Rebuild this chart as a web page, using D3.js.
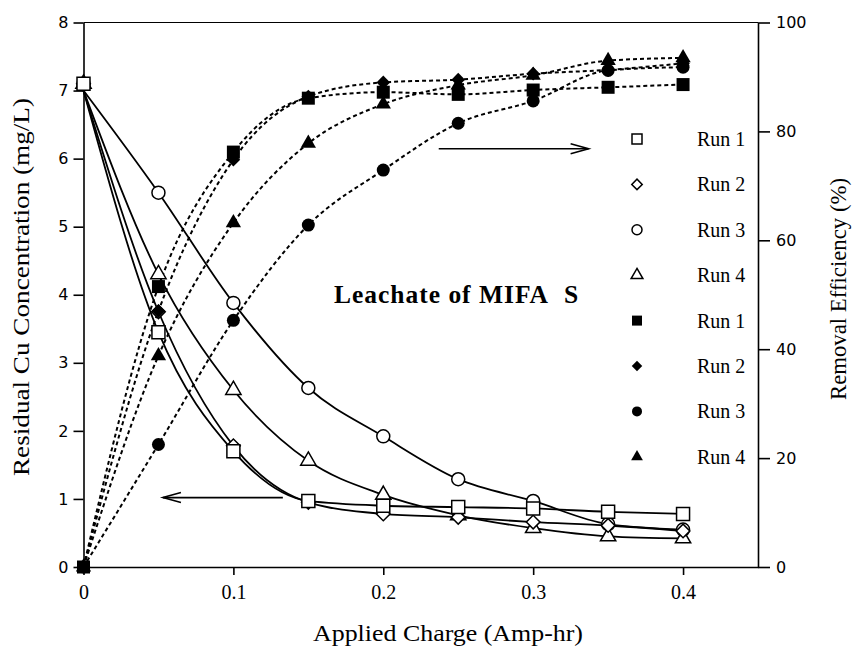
<!DOCTYPE html>
<html>
<head>
<meta charset="utf-8">
<script src="https://cdn.jsdelivr.net/npm/d3@7"></script>
<style>
  body { margin: 0; background: #fff; }
  svg { display: block; }
</style>
</head>
<body>
<div id="chart"></div>
<script>
// applied charge (Amp-hr) for every sample
var charge = [0, 0.05, 0.1, 0.15, 0.2, 0.25, 0.3, 0.35, 0.4];

// residual Cu concentration (mg/L), open markers
var concRun1 = [7.1, 3.45, 1.7, 0.97, 0.9, 0.88, 0.86, 0.81, 0.78];
var concRun2 = [7.1, 3.75, 1.78, 0.95, 0.78, 0.73, 0.66, 0.61, 0.53];
var concRun3 = [7.1, 5.5, 3.88, 2.63, 1.92, 1.29, 0.97, 0.63, 0.55];
var concRun4 = [7.1, 4.3, 2.6, 1.56, 1.06, 0.76, 0.57, 0.45, 0.42];

// removal efficiency (%), solid markers
var effRun1 = [0, 51.5, 76.2, 86.1, 87.2, 86.8, 87.6, 88.1, 88.6];
var effRun2 = [0, 47, 74.8, 86.4, 89, 89.5, 90.6, 91.3, 92.5];
var effRun3 = [0, 22.5, 45.3, 62.8, 72.9, 81.5, 85.6, 91.2, 91.8];
var effRun4 = [0, 38.8, 63.2, 77.8, 85, 88.5, 90.3, 93, 93.5];

var xTicks = [0, 0.1, 0.2, 0.3, 0.4];
var leftTicks = [0, 1, 2, 3, 4, 5, 6, 7, 8];
var rightTicks = [0, 20, 40, 60, 80, 100];

var runNames = ["Run 1", "Run 2", "Run 3", "Run 4"];
var shapes = ["square", "diamond", "circle", "triangle"];

var width = 857, height = 649;
var margin = {left: 83.5, right: 99, top: 22.5, bottom: 82};

var svg = d3.select("#chart").append("svg")
    .attr("width", width)
    .attr("height", height);

var x = d3.scaleLinear().domain([0, 0.45]).range([margin.left, width - margin.right]);
var yLeft = d3.scaleLinear().domain([0, 8]).range([height - margin.bottom, margin.top]);
var yRight = d3.scaleLinear().domain([0, 100]).range([height - margin.bottom, margin.top]);

var serif = "'Liberation Serif', 'Times New Roman', serif";
var sans = "'DejaVu Sans', sans-serif";

// marker path for a shape name
function markerPath(shape, s) {
    if (shape == "square") return d3.symbol().type(d3.symbolSquare).size(s * s)();
    if (shape == "diamond") return d3.symbol().type(d3.symbolSquare).size(s * s * 0.55)();
    if (shape == "circle") return d3.symbol().type(d3.symbolCircle).size(Math.PI * s * s / 4)();
    return d3.symbol().type(d3.symbolTriangle).size(s * s * 0.6)();
}

/////////////////////////////////////////////////
//////////////////// axes ///////////////////////
/////////////////////////////////////////////////

var bottomAxis = svg.append("g")
    .attr("transform", "translate(0," + yLeft(0) + ")")
    .call(d3.axisBottom(x).tickValues(xTicks).tickFormat(function (d) { return d == 0 ? "0" : d3.format(".1f")(d); })
        .tickSize(8).tickPadding(10).tickSizeOuter(0));
bottomAxis.selectAll("text").style("font-family", serif).style("font-size", "20px");

var leftAxis = svg.append("g")
    .attr("transform", "translate(" + margin.left + ",0)")
    .call(d3.axisLeft(yLeft).tickValues(leftTicks).tickFormat(d3.format("d"))
        .tickSize(10).tickPadding(5).tickSizeOuter(0));
leftAxis.selectAll("text").style("font-family", sans).style("font-size", "16px");

var rightAxis = svg.append("g")
    .attr("transform", "translate(" + (width - margin.right) + ",0)")
    .call(d3.axisRight(yRight).tickValues(rightTicks).tickFormat(d3.format("d"))
        .tickSize(12).tickPadding(6).tickSizeOuter(0));
rightAxis.selectAll("text").style("font-family", sans).style("font-size", "16px");

// top border
svg.append("line")
    .attr("x1", margin.left).attr("x2", width - margin.right)
    .attr("y1", yLeft(8)).attr("y2", yLeft(8))
    .attr("stroke", "#000");

svg.selectAll(".domain, .tick line").attr("stroke", "#000").attr("stroke-width", 1.6);
svg.selectAll(".tick text").attr("fill", "#000");

// axis titles
svg.append("text")
    .attr("transform", "translate(29," + 287 + ") rotate(-90)")
    .attr("text-anchor", "middle")
    .style("font-family", serif).style("font-size", "23px")
    .attr("textLength", 378).attr("lengthAdjust", "spacingAndGlyphs")
    .text("Residual Cu Concentration (mg/L)");

svg.append("text")
    .attr("transform", "translate(846," + 289 + ") rotate(-90)")
    .attr("text-anchor", "middle")
    .style("font-family", serif).style("font-size", "23px")
    .attr("textLength", 222).attr("lengthAdjust", "spacingAndGlyphs")
    .text("Removal Efficiency (%)");

svg.append("text")
    .attr("x", 448).attr("y", 641)
    .attr("text-anchor", "middle")
    .style("font-family", serif).style("font-size", "23px")
    .attr("textLength", 270).attr("lengthAdjust", "spacingAndGlyphs")
    .text("Applied Charge (Amp-hr)");

/////////////////////////////////////////////////
//////////////////// curves /////////////////////
/////////////////////////////////////////////////

var concSeries = [concRun1, concRun2, concRun3, concRun4];
var effSeries = [effRun1, effRun2, effRun3, effRun4];

var concLine = d3.line()
    .x(function (d) { return x(d[0]); })
    .y(function (d) { return yLeft(d[1]); })
    .curve(d3.curveMonotoneX);

var effLine = d3.line()
    .x(function (d) { return x(d[0]); })
    .y(function (d) { return yRight(d[1]); })
    .curve(d3.curveMonotoneX);

concSeries.forEach(function (vals) {
    var pts = charge.map(function (c, i) { return [c, i == 0 ? 7.0 : vals[i]]; });
    svg.append("path")
        .attr("d", concLine(pts))
        .attr("fill", "none")
        .attr("stroke", "#000")
        .attr("stroke-width", 1.8);
});

effSeries.forEach(function (vals) {
    var pts = charge.map(function (c, i) { return [c, vals[i]]; });
    svg.append("path")
        .attr("d", effLine(pts))
        .attr("fill", "none")
        .attr("stroke", "#000")
        .attr("stroke-width", 2)
        .attr("stroke-dasharray", "4,3");
});

/////////////////////////////////////////////////
//////////////////// markers ////////////////////
/////////////////////////////////////////////////

// draw run 4 first so run 1 ends on top (as in the shared start point)
[3, 2, 1, 0].forEach(function (k) {
    svg.append("g").selectAll("path")
        .data(concSeries[k])
        .enter()
        .append("path")
        .attr("transform", function (d, i) {
            return "translate(" + x(charge[i]) + "," + yLeft(d) + ")" + (shapes[k] == "diamond" ? " rotate(45)" : "");
        })
        .attr("d", markerPath(shapes[k], 13))
        .attr("fill", "#fff")
        .attr("stroke", "#000")
        .attr("stroke-width", 1.5);
});

effSeries.forEach(function (vals, k) {
    svg.append("g").selectAll("path")
        .data(vals)
        .enter()
        .append("path")
        .attr("transform", function (d, i) {
            return "translate(" + x(charge[i]) + "," + yRight(d) + ")" + (shapes[k] == "diamond" ? " rotate(45)" : "");
        })
        .attr("d", markerPath(shapes[k], 13))
        .attr("fill", "#000");
});

/////////////////////////////////////////////////
//////////////////// legend /////////////////////
/////////////////////////////////////////////////

var legendItems = [];
runNames.forEach(function (n, k) { legendItems.push({name: n, shape: shapes[k], filled: false}); });
runNames.forEach(function (n, k) { legendItems.push({name: n, shape: shapes[k], filled: true}); });

var legend = svg.append("g");
legendItems.forEach(function (item, i) {
    var ly = 139 + i * 45.4;
    legend.append("path")
        .attr("transform", "translate(637," + ly + ")" + (item.shape == "diamond" ? " rotate(45)" : ""))
        .attr("d", markerPath(item.shape, 10))
        .attr("fill", item.filled ? "#000" : "#fff")
        .attr("stroke", "#000")
        .attr("stroke-width", item.filled ? 0 : 1.5);
    legend.append("text")
        .attr("x", 697).attr("y", ly + 7)
        .style("font-family", serif).style("font-size", "20px")
        .text(item.name);
});

// annotation text
var note = svg.append("text")
    .attr("y", 303)
    .style("font-family", serif).style("font-size", "25.5px").style("font-weight", "bold");
note.append("tspan").attr("x", 334).attr("textLength", 214).attr("lengthAdjust", "spacing").text("Leachate of MIFA");
note.append("tspan").attr("x", 564).text("S");

// arrows pointing to the axis each family belongs to
function arrow(x1, x2, yy) {
    var g = svg.append("g").attr("stroke", "#000").attr("stroke-width", 1.6).attr("fill", "none");
    var dir = x2 > x1 ? 1 : -1;
    g.append("line").attr("x1", x1).attr("x2", x2).attr("y1", yy).attr("y2", yy);
    g.append("path").attr("d", "M" + (x2 - dir * 18) + "," + (yy - 5) + "L" + x2 + "," + yy + "L" + (x2 - dir * 18) + "," + (yy + 5));
}
arrow(x(0.237), x(0.337), yRight(76.8));
arrow(x(0.133), x(0.053), yLeft(1.02));
</script>
</body>
</html>
